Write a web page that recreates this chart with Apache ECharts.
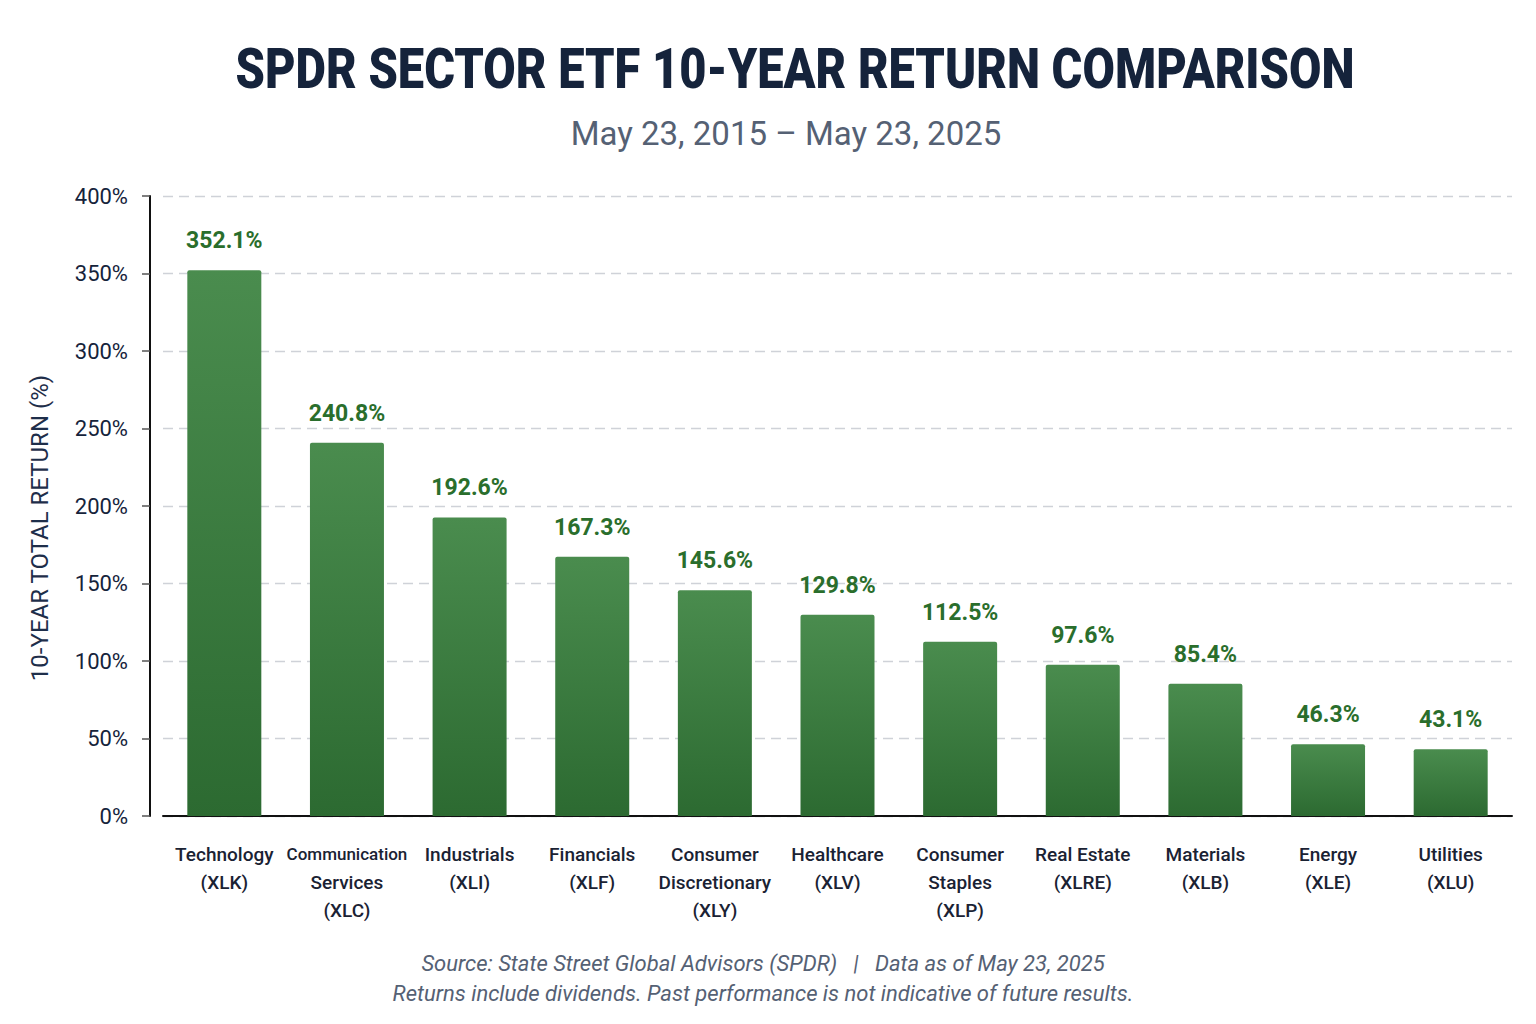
<!DOCTYPE html>
<html>
<head>
<meta charset="utf-8">
<script src="https://cdn.jsdelivr.net/npm/echarts@6/dist/echarts.min.js"></script>
<style>
  html, body { margin: 0; padding: 0; background: #fff; }
  #chart { width: 1536px; height: 1024px; }
</style>
</head>
<body>
<div id="chart"></div>
<script>
var sectors = ['Technology', 'Communication\nServices', 'Industrials', 'Financials', 'Consumer\nDiscretionary',
  'Healthcare', 'Consumer\nStaples', 'Real Estate', 'Materials', 'Energy', 'Utilities'];
var tickers = ['XLK', 'XLC', 'XLI', 'XLF', 'XLY', 'XLV', 'XLP', 'XLRE', 'XLB', 'XLE', 'XLU'];
var returns = [352.1, 240.8, 192.6, 167.3, 145.6, 129.8, 112.5, 97.6, 85.4, 46.3, 43.1];
var yTicks = [0, 50, 100, 150, 200, 250, 300, 350, 400];

var ink = '#15233b';
var muted = '#556174';
var green = '#2a6e2c';

var categories = sectors.map(function(s, i) { return s + '\n(' + tickers[i] + ')'; });

var chart = echarts.init(document.getElementById('chart'), null, { renderer: 'svg' });
var option = {
  backgroundColor: '#ffffff',
  animation: false,
  title: [
    {
      text: 'May 23, 2015 \u2013 May 23, 2025',
      left: 781, top: 112, textAlign: 'center',
      textStyle: { fontFamily: 'Roboto', fontSize: 33, fontWeight: 'normal', color: muted }
    },
    {
      text: 'Source: State Street Global Advisors (SPDR)   |   Data as of May 23, 2025\nReturns include dividends. Past performance is not indicative of future results.',
      left: 758, top: 943, textAlign: 'center',
      textStyle: { fontFamily: 'Roboto', fontSize: 22, fontStyle: 'italic', fontWeight: 'normal', color: muted, lineHeight: 30 }
    }
  ],
  graphic: [
    {
      type: 'text',
      x: 795, y: 69,
      scaleX: 0.855,
      style: {
        text: 'SPDR SECTOR ETF 10-YEAR RETURN COMPARISON',
        font: '900 55px Roboto',
        fill: ink,
        textAlign: 'center',
        textVerticalAlign: 'middle'
      }
    },
    {
      type: 'text',
      x: 40, y: 528,
      rotation: Math.PI / 2,
      style: {
        text: '10-YEAR TOTAL RETURN (%)',
        font: '24px Roboto',
        fill: '#1e2e4a',
        textAlign: 'center',
        textVerticalAlign: 'middle'
      }
    }
  ],
  grid: { left: 163, right: 24, top: 196, bottom: 208 },
  xAxis: {
    type: 'category',
    data: categories,
    axisLine: { lineStyle: { color: '#111111', width: 2 } },
    axisTick: { show: false },
    axisLabel: {
      interval: 0,
      margin: 24,
      fontFamily: 'Roboto',
      fontSize: 19,
      fontWeight: 500,
      lineHeight: 28,
      color: '#1a2233',
      formatter: function(v) {
        if (v.indexOf('Communication') === 0) {
          return v.split('\n').map(function(l, i) { return i === 0 ? '{narrow|' + l + '}' : l; }).join('\n');
        }
        return v;
      },
      rich: { narrow: { fontSize: 17, fontWeight: 500, fontFamily: 'Roboto', color: '#1a2233', lineHeight: 28 } }
    }
  },
  yAxis: {
    type: 'value',
    min: yTicks[0],
    max: yTicks[yTicks.length - 1],
    interval: yTicks[1] - yTicks[0],
    offset: 13,
    axisLine: { show: true, lineStyle: { color: '#111111', width: 2 } },
    axisTick: { show: true, length: 8, lineStyle: { color: '#555555', width: 1.5 } },
    axisLabel: {
      formatter: '{value}%',
      fontFamily: 'Roboto',
      fontSize: 22,
      color: ink,
      margin: 22
    },
    splitLine: { lineStyle: { color: '#cfd2d8', type: [10, 6], width: 1.3 } }
  },
  series: [{
    type: 'bar',
    data: returns,
    barWidth: 74,
    itemStyle: {
      borderRadius: [2, 2, 0, 0],
      color: new echarts.graphic.LinearGradient(0, 0, 0, 1, [
        { offset: 0, color: '#4a8c4e' },
        { offset: 1, color: '#2c6a31' }
      ])
    },
    label: {
      show: true,
      position: 'top',
      distance: 18,
      fontFamily: 'Roboto',
      fontSize: 23,
      fontWeight: 'bold',
      color: green,
      formatter: function(p) { return p.value.toFixed(1) + '%'; }
    }
  }]
};
chart.setOption(option);
window.addEventListener('resize', function() { chart.resize(); });
</script>
</body>
</html>
